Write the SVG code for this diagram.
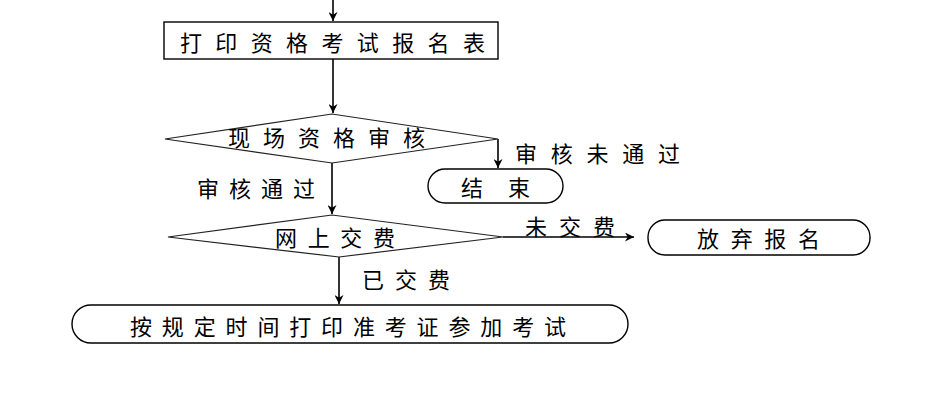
<svg xmlns="http://www.w3.org/2000/svg" width="949" height="407" viewBox="0 0 949 407">
<style>
  .shape { fill: #fff; stroke: #000; stroke-width: 1.4; }
  .dia { fill: #fff; stroke: #222; stroke-width: 1.2; }
  .edge { fill: none; stroke: #000; stroke-width: 1.6; }
  text { font-family: "Noto Sans CJK SC", "Liberation Sans", sans-serif; font-size: 22px; fill: #000; dominant-baseline: central; }
</style>
<defs>
  <marker id="arr" viewBox="0 0 10 10" refX="10" refY="5" markerWidth="9" markerHeight="9" markerUnits="userSpaceOnUse" orient="auto">
    <path d="M0,0 L10,5 L0,10 L3,5 Z" fill="#000"/>
  </marker>
</defs>
<rect width="949" height="407" fill="#fff"/>
<g id="connectors">
  <path class="edge" d="M333,0 V21" marker-end="url(#arr)"/>
  <path class="edge" d="M333,59 V113" marker-end="url(#arr)"/>
  <path class="edge" d="M498,139 V168" marker-end="url(#arr)"/>
  <path class="edge" d="M332,163 V214" marker-end="url(#arr)"/>
  <path class="edge" d="M503,237 H634" marker-end="url(#arr)"/>
  <path class="edge" d="M339,257 V304" marker-end="url(#arr)"/>
  <text x="515" y="152" textLength="165" lengthAdjust="spacing">审核未通过</text>
  <text x="197" y="187" textLength="118" lengthAdjust="spacing">审核通过</text>
  <text x="525" y="225" textLength="90" lengthAdjust="spacing">未交费</text>
  <text x="362" y="278" textLength="88" lengthAdjust="spacing">已交费</text>
</g>
<g id="node-print">
  <rect class="shape" x="164" y="22" width="334" height="37"/>
  <text x="180" y="41" textLength="305" lengthAdjust="spacing">打印资格考试报名表</text>
</g>
<g id="node-review">
  <polygon class="dia" points="165,139 332,114 498,139 332,163"/>
  <text x="228" y="136" textLength="197" lengthAdjust="spacing">现场资格审核</text>
</g>
<g id="node-end">
  <rect class="shape" x="428" y="169" width="135" height="34" rx="17" ry="17"/>
  <text x="461" y="186" textLength="69" lengthAdjust="spacing">结束</text>
</g>
<g id="node-pay">
  <polygon class="dia" points="168,237 332,215 503,237 339,257"/>
  <text x="275" y="236" textLength="120" lengthAdjust="spacing">网上交费</text>
</g>
<g id="node-abandon">
  <rect class="shape" x="648" y="220" width="222" height="35" rx="17" ry="17"/>
  <text x="697" y="237" textLength="123" lengthAdjust="spacing">放弃报名</text>
</g>
<g id="node-exam">
  <rect class="shape" x="72" y="305" width="556" height="38" rx="19" ry="19"/>
  <text x="130" y="325" textLength="436" lengthAdjust="spacing">按规定时间打印准考证参加考试</text>
</g>
</svg>
